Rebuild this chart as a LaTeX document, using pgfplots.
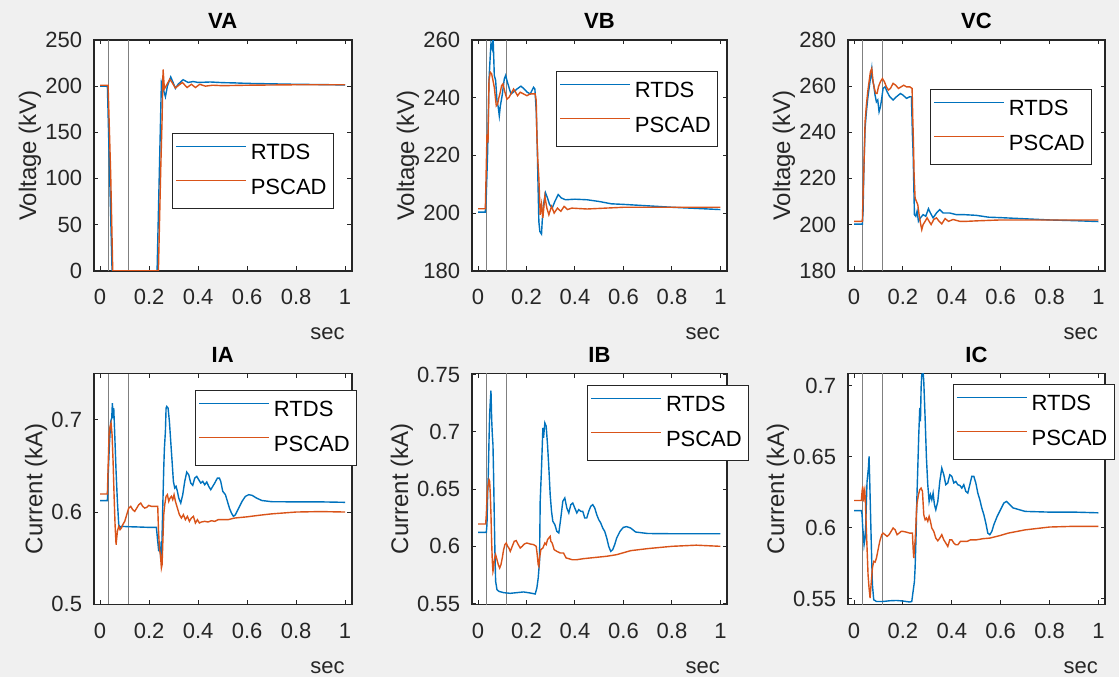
\documentclass[border=0pt]{standalone}
\usepackage{fontspec}
\setmainfont{Liberation Sans}
\usepackage{pgfplots}
\pgfplotsset{compat=1.18}
\definecolor{figbg}{RGB}{240,240,240}
\definecolor{axcol}{RGB}{38,38,38}
\definecolor{rtds}{RGB}{0,114,189}
\definecolor{pscad}{RGB}{217,83,25}
\definecolor{vline}{RGB}{128,128,128}
\pgfplotsset{
 mystyle/.style={
  scale only axis, anchor=south west,
  xmin=-0.026, xmax=1.027,
  xtick={0,0.2,0.4,0.6,0.8,1}, xticklabels={0,0.2,0.4,0.6,0.8,1},
  axis background/.style={fill=white},
  axis line style={axcol, line width=0.8pt},
  tick style={axcol, line width=0.5pt},
  major tick length=2.2pt,
  tick align=inside,
  every tick label/.append style={font=\fontsize{11}{13}\selectfont, text=axcol},
  xticklabel style={yshift=-5.8pt},
  yticklabel style={xshift=-2.3pt},
  xlabel={sec},
  xlabel style={at={(axis description cs:1,0)}, anchor=base east, yshift=-34.5pt, font=\fontsize{11}{13}\selectfont, text=axcol},
  ylabel style={font=\fontsize{12}{14}\selectfont, text=axcol},
  ylabel shift=-4.8pt,
  legend cell align=left,
  legend style={draw=axcol, line width=0.5pt, fill=white, inner xsep=1.5pt, inner ysep=3.55pt, row sep=3.9pt,
     font=\fontsize{11}{13}\selectfont, nodes={inner sep=2pt}, anchor=north west},
  legend image code/.code={\draw[##1, line width=0.7pt] (0pt,3.6pt) -- (35pt,3.6pt);},
 },
 rt/.style={rtds, line width=0.7pt},
 ps/.style={pscad, line width=0.7pt},
 gl/.style={vline, line width=0.5pt, forget plot},
}
\tikzset{ttl/.style={anchor=base, font=\bfseries\fontsize{11}{13}\selectfont, text=black, inner sep=0pt}}
\begin{document}
\begin{tikzpicture}
\path[use as bounding box, fill=figbg] (0,0) rectangle (559.5pt,338.5pt);

% ---------------- VA ----------------
\begin{axis}[mystyle, at={(46.85pt,203.15pt)}, width=129pt, height=115.35pt,
  ymin=0, ymax=250, ytick={0,50,100,150,200,250}, yticklabels={0,50,100,150,200,250},
  ylabel={Voltage (kV)}, legend style={at={(0.303,0.597)}}]
\addplot[gl] coordinates {(0.033,0) (0.033,250)};
\addplot[gl] coordinates {(0.117,0) (0.117,250)};
\addplot[rt] coordinates {(0,200) (0.0299,200) (0.049,0) (0.2327,0) (0.2503,204) (0.2667,188.5) (0.2748,200) (0.2884,210) (0.298,204) (0.3075,197.5) (0.3184,202) (0.3388,207) (0.3592,204) (0.38,205) (0.4,204) (0.45,204.5) (0.5,203.8) (0.55,203.5) (0.6,203) (0.7,202.5) (0.8,202) (0.9,201.7) (1,201.3)};
\addplot[ps] coordinates {(0,201) (0.0327,201) (0.0435,103) (0.0517,0) (0.2381,0) (0.2476,110) (0.2531,164) (0.2571,218) (0.2626,197) (0.2735,202) (0.2844,207.5) (0.2939,204) (0.3075,198) (0.3211,201) (0.3361,204) (0.3551,198.5) (0.3728,202) (0.3891,198.5) (0.4068,202) (0.43,200) (0.46,201) (0.5,200.5) (0.6,201) (0.8,201.5) (1,201.5)};
\legend{RTDS,PSCAD}
\end{axis}

% ---------------- VB ----------------
\begin{axis}[mystyle, at={(235.85pt,203.15pt)}, width=127.65pt, height=115.35pt,
  ymin=180, ymax=260, ytick={180,200,220,240,260}, yticklabels={180,200,220,240,260},
  ylabel={Voltage (kV)}, legend style={at={(0.330,0.866)}}]
\addplot[gl] coordinates {(0.033,180) (0.033,260)};
\addplot[gl] coordinates {(0.117,180) (0.117,260)};
\addplot[rt] coordinates {(0,200.3) (0.0302,200.3) (0.0343,206.4) (0.0398,221.5) (0.0453,246) (0.0508,255) (0.0535,258.7) (0.059,257) (0.0617,262) (0.0645,255) (0.0672,247.7) (0.0727,246) (0.0782,239) (0.0837,236.6) (0.0878,233.7) (0.0919,237) (0.1001,241) (0.1084,246.5) (0.1139,247.7) (0.1193,246) (0.1276,243.6) (0.1358,241.3) (0.1468,242) (0.1605,243) (0.177,244) (0.1907,243) (0.2016,242) (0.2154,241.3) (0.2291,243.6) (0.2346,243) (0.2401,235.5) (0.2442,223.8) (0.2469,212.2) (0.251,197) (0.2551,193.6) (0.262,192.7) (0.2647,197) (0.2702,203) (0.2785,207) (0.2867,205.2) (0.2949,203) (0.3059,201.7) (0.3169,204) (0.3306,206.4) (0.3443,205.2) (0.3608,204.6) (0.4,204.8) (0.45,204.6) (0.5,204) (0.55,203.2) (0.6,203) (0.7,202.5) (0.8,202) (0.9,201.6) (1,201.2)};
\addplot[ps] coordinates {(0,201.5) (0.0302,201.5) (0.0316,206.4) (0.037,227.3) (0.0412,224.4) (0.0453,246) (0.0508,248.8) (0.0562,248.3) (0.0617,246) (0.0672,243.6) (0.0754,237.2) (0.0809,237.8) (0.0864,240.1) (0.0919,241.9) (0.0974,244.2) (0.1029,244.8) (0.1111,241.9) (0.1193,239.5) (0.1276,240.1) (0.1358,241.3) (0.1468,243) (0.155,241.9) (0.1632,240.7) (0.1742,241.9) (0.1879,241.3) (0.2016,240.7) (0.2154,241.3) (0.2359,241.3) (0.2401,239) (0.2428,227.3) (0.2469,218) (0.251,212.2) (0.2565,199.4) (0.262,203) (0.2675,198.3) (0.2757,205.8) (0.284,201.7) (0.2922,199.4) (0.3032,202.3) (0.3141,200) (0.3278,201.7) (0.3416,200.6) (0.3553,202.3) (0.369,201.2) (0.3868,201.7) (0.45,201.4) (0.5,201.6) (0.6,202) (0.8,202) (1,202)};
\legend{RTDS,PSCAD}
\end{axis}

% ---------------- VC ----------------
\begin{axis}[mystyle, at={(423.85pt,203.15pt)}, width=128.65pt, height=115.35pt,
  ymin=180, ymax=280, ytick={180,200,220,240,260,280}, yticklabels={180,200,220,240,260,280},
  ylabel={Voltage (kV)}, legend style={at={(0.320,0.788)}}]
\addplot[gl] coordinates {(0.033,180) (0.033,280)};
\addplot[gl] coordinates {(0.117,180) (0.117,280)};
\addplot[rt] coordinates {(0,200.2) (0.0341,200.2) (0.0369,205.8) (0.0396,221.6) (0.0451,241.7) (0.0505,248.9) (0.056,254.7) (0.0614,259) (0.0669,263.3) (0.0724,267.6) (0.0751,263.3) (0.0805,260.4) (0.086,256.1) (0.0915,253.2) (0.0969,254) (0.1024,248.9) (0.1078,251) (0.1133,254.7) (0.1188,259) (0.127,259.7) (0.1352,257.6) (0.1461,255.4) (0.1597,254) (0.1734,255.4) (0.1898,256.8) (0.2007,256.1) (0.2143,254.7) (0.228,255.4) (0.2348,255.4) (0.2389,238.8) (0.2416,231.7) (0.2444,217.3) (0.2471,204.3) (0.2526,203.6) (0.258,205.8) (0.2635,201.4) (0.2717,202.9) (0.2826,204.3) (0.2935,203.6) (0.3044,206.9) (0.3126,205) (0.3235,202.9) (0.3372,205) (0.3509,206.5) (0.3645,205) (0.3918,205) (0.4191,204.3) (0.45,204.3) (0.5,204) (0.55,203.2) (0.6,203) (0.7,202.5) (0.8,202) (0.9,201.7) (1,201.3)};
\addplot[ps] coordinates {(0,201.4) (0.0341,201.4) (0.0369,213) (0.0396,221.6) (0.0451,244.6) (0.0505,251.8) (0.056,257.6) (0.0614,261.9) (0.0669,266.2) (0.0724,267.6) (0.0778,261.9) (0.0833,259) (0.0887,256.8) (0.0942,256.8) (0.0997,259.7) (0.1078,261.9) (0.116,263.3) (0.1242,261.9) (0.1324,259.7) (0.1406,258.3) (0.1488,259) (0.1597,261.2) (0.1706,260.4) (0.1816,259) (0.1925,259.7) (0.2034,260.4) (0.2143,259.7) (0.228,259.7) (0.2375,259) (0.2403,246) (0.243,236) (0.2457,221.6) (0.2498,211.5) (0.2553,210) (0.2608,208.6) (0.2662,204.3) (0.2717,200.7) (0.2771,197.8) (0.2826,200) (0.2908,201.4) (0.299,202.9) (0.3072,201.4) (0.3154,200) (0.3263,202.2) (0.3372,202.9) (0.3481,201.4) (0.359,200.3) (0.3727,202.6) (0.3863,201.4) (0.4055,202.2) (0.4328,201.4) (0.4601,201.4) (0.5,201.6) (0.6,202) (0.8,202) (1,202)};
\legend{RTDS,PSCAD}
\end{axis}

% ---------------- IA ----------------
\begin{axis}[mystyle, at={(46.85pt,36.35pt)}, width=129pt, height=115.35pt,
  ymin=0.5, ymax=0.75, ytick={0.5,0.6,0.7}, yticklabels={0.5,0.6,0.7},
  ylabel={Current (kA)}, legend style={at={(0.393,0.929)}}]
\addplot[gl] coordinates {(0.033,0.5) (0.033,0.75)};
\addplot[gl] coordinates {(0.117,0.5) (0.117,0.75)};
\addplot[rt] coordinates {(0,0.6123) (0.0299,0.6123) (0.0327,0.6368) (0.0381,0.6729) (0.0435,0.6982) (0.0476,0.7018) (0.0503,0.7181) (0.0531,0.7018) (0.0558,0.7126) (0.0599,0.6838) (0.0653,0.644) (0.0707,0.6116) (0.0762,0.5863) (0.0816,0.5834) (0.0871,0.5845) (0.1143,0.5841) (0.1551,0.5838) (0.1959,0.5834) (0.2299,0.5834) (0.234,0.5718) (0.2395,0.5574) (0.2435,0.5682) (0.2476,0.5502) (0.2517,0.5592) (0.2558,0.6043) (0.2599,0.6477) (0.2626,0.6693) (0.2667,0.6874) (0.2694,0.7126) (0.2721,0.7144) (0.2776,0.7126) (0.283,0.6982) (0.2884,0.6765) (0.2939,0.6549) (0.2993,0.6332) (0.3048,0.626) (0.3102,0.6278) (0.3156,0.6224) (0.3211,0.6152) (0.3293,0.6097) (0.3374,0.6188) (0.3456,0.6332) (0.3537,0.6433) (0.3619,0.6404) (0.3701,0.6314) (0.3782,0.6289) (0.3864,0.6368) (0.3946,0.6386) (0.4027,0.635) (0.4109,0.6314) (0.419,0.6332) (0.4272,0.6296) (0.4354,0.6325) (0.4435,0.6278) (0.4517,0.6242) (0.4599,0.6278) (0.468,0.6314) (0.4789,0.6368) (0.4871,0.6368) (0.4925,0.6332) (0.5007,0.6224) (0.5116,0.6188) (0.5197,0.6116) (0.5279,0.6043) (0.5361,0.5989) (0.5442,0.5953) (0.5524,0.5971) (0.566,0.6043) (0.5796,0.6116) (0.5932,0.617) (0.6068,0.6188) (0.6204,0.6181) (0.6381,0.6152) (0.66,0.6125) (0.7,0.6112) (0.8,0.611) (0.9,0.611) (1,0.6105)};
\addplot[ps] coordinates {(0,0.6195) (0.0299,0.6195) (0.0327,0.6477) (0.0367,0.6838) (0.0408,0.6928) (0.0449,0.6964) (0.049,0.6838) (0.0531,0.6549) (0.0571,0.6188) (0.0612,0.5863) (0.0653,0.5646) (0.0707,0.5791) (0.0762,0.5845) (0.0816,0.5809) (0.0871,0.5827) (0.0925,0.5863) (0.1007,0.5899) (0.1088,0.5971) (0.117,0.6043) (0.1252,0.6061) (0.1333,0.6025) (0.1415,0.6007) (0.1497,0.6043) (0.1578,0.6079) (0.166,0.6097) (0.1741,0.6061) (0.1823,0.6043) (0.1905,0.6051) (0.1986,0.6072) (0.2095,0.6061) (0.2231,0.6061) (0.2354,0.6061) (0.2381,0.5827) (0.2422,0.561) (0.2463,0.5538) (0.2503,0.5394) (0.2531,0.543) (0.2558,0.5646) (0.2599,0.5971) (0.2639,0.6079) (0.2694,0.617) (0.2748,0.6188) (0.2803,0.6116) (0.2857,0.6152) (0.2912,0.617) (0.2966,0.6134) (0.302,0.6188) (0.3075,0.6116) (0.3156,0.6043) (0.3238,0.5971) (0.332,0.5935) (0.3401,0.5971) (0.3483,0.5917) (0.3565,0.5953) (0.3646,0.5899) (0.3728,0.5935) (0.381,0.5953) (0.3891,0.5881) (0.3973,0.5917) (0.4054,0.5881) (0.4136,0.5892) (0.4272,0.5899) (0.4408,0.5892) (0.4544,0.5906) (0.468,0.5899) (0.4816,0.5917) (0.4952,0.5917) (0.5224,0.5917) (0.5497,0.5935) (0.6,0.5948) (0.65,0.5965) (0.7,0.598) (0.75,0.599) (0.8,0.6) (0.9,0.6005) (1,0.6)};
\legend{RTDS,PSCAD}
\end{axis}

% ---------------- IB ----------------
\begin{axis}[mystyle, at={(235.85pt,36.35pt)}, width=127.65pt, height=115.35pt,
  ymin=0.5493, ymax=0.751, ytick={0.55,0.6,0.65,0.7,0.75}, yticklabels={0.55,0.6,0.65,0.7,0.75},
  ylabel={Current (kA)}, legend style={at={(0.452,0.951)}}]
\addplot[gl] coordinates {(0.033,0.5) (0.033,0.76)};
\addplot[gl] coordinates {(0.117,0.5) (0.117,0.76)};
\addplot[rt] coordinates {(0,0.6122) (0.0343,0.6122) (0.037,0.619) (0.0398,0.6452) (0.0425,0.6627) (0.0453,0.6918) (0.048,0.7152) (0.0508,0.7268) (0.0535,0.7362) (0.0562,0.7122) (0.059,0.6977) (0.0617,0.6889) (0.0645,0.6598) (0.0672,0.6248) (0.07,0.5927) (0.0727,0.5694) (0.0782,0.5621) (0.0864,0.5606) (0.1056,0.5595) (0.1331,0.5589) (0.1605,0.5595) (0.1879,0.5601) (0.2154,0.5592) (0.2359,0.5583) (0.2428,0.5636) (0.2483,0.5723) (0.2538,0.5869) (0.2565,0.6394) (0.262,0.6685) (0.2675,0.7035) (0.2702,0.6948) (0.2757,0.7079) (0.2812,0.705) (0.2867,0.6889) (0.2922,0.6685) (0.2977,0.6452) (0.3032,0.6306) (0.3086,0.6219) (0.3169,0.619) (0.3251,0.6131) (0.3333,0.6117) (0.3416,0.6248) (0.3498,0.6394) (0.358,0.6423) (0.3663,0.6335) (0.3745,0.6292) (0.3827,0.6364) (0.3909,0.6379) (0.3992,0.6335) (0.4074,0.6292) (0.4156,0.6321) (0.4239,0.6306) (0.4321,0.6306) (0.4403,0.6248) (0.4486,0.6248) (0.4568,0.6306) (0.465,0.635) (0.4733,0.6364) (0.4815,0.6335) (0.4897,0.6277) (0.4979,0.6233) (0.5062,0.6204) (0.5144,0.616) (0.5226,0.6131) (0.5309,0.6073) (0.5391,0.6) (0.5473,0.5956) (0.5556,0.5971) (0.5638,0.6015) (0.572,0.6073) (0.5857,0.6131) (0.5995,0.6166) (0.6132,0.6172) (0.6296,0.616) (0.65,0.6125) (0.7,0.6112) (0.8,0.611) (1,0.611)};
\addplot[ps] coordinates {(0,0.6195) (0.0316,0.6195) (0.0343,0.6277) (0.037,0.6423) (0.0398,0.651) (0.0453,0.6583) (0.048,0.6569) (0.0508,0.6452) (0.0535,0.6277) (0.0562,0.6044) (0.059,0.5869) (0.0617,0.5781) (0.0645,0.581) (0.0672,0.5883) (0.0727,0.5927) (0.0782,0.5883) (0.0837,0.584) (0.0892,0.581) (0.0947,0.584) (0.1001,0.5898) (0.1056,0.5971) (0.1111,0.6015) (0.1166,0.6029) (0.1221,0.6) (0.1276,0.5985) (0.1331,0.5956) (0.1413,0.6) (0.1495,0.6044) (0.1578,0.605) (0.166,0.6015) (0.1742,0.5985) (0.1824,0.6) (0.1907,0.602) (0.2016,0.6029) (0.2154,0.602) (0.2291,0.6015) (0.2401,0.6) (0.2442,0.5927) (0.2483,0.584) (0.251,0.5825) (0.2538,0.5898) (0.2593,0.5971) (0.2675,0.5985) (0.2757,0.6029) (0.2812,0.6015) (0.2867,0.6058) (0.2922,0.6073) (0.2977,0.6087) (0.3004,0.6044) (0.3059,0.6029) (0.3141,0.5971) (0.3251,0.5956) (0.3388,0.5942) (0.3525,0.5942) (0.3635,0.5898) (0.3745,0.5892) (0.3882,0.5883) (0.4074,0.5883) (0.4348,0.5892) (0.4623,0.5898) (0.4897,0.5904) (0.5309,0.5913) (0.572,0.5927) (0.6296,0.5962) (0.7,0.598) (0.8,0.6) (0.9,0.601) (1,0.6)};
\legend{RTDS,PSCAD}
\end{axis}

% ---------------- IC ----------------
\begin{axis}[mystyle, at={(423.85pt,36.35pt)}, width=128.65pt, height=115.35pt,
  ymin=0.5461, ymax=0.7085, ytick={0.55,0.6,0.65,0.7}, yticklabels={0.55,0.6,0.65,0.7},
  ylabel={Current (kA)}, legend style={at={(0.408,0.955)}}]
\addplot[gl] coordinates {(0.033,0.5) (0.033,0.75)};
\addplot[gl] coordinates {(0.117,0.5) (0.117,0.75)};
\addplot[rt] coordinates {(0,0.612) (0.03,0.612) (0.0328,0.6092) (0.0355,0.5998) (0.0382,0.5951) (0.041,0.588) (0.0451,0.5927) (0.0478,0.6021) (0.0505,0.6185) (0.0532,0.6326) (0.056,0.6373) (0.0587,0.642) (0.0614,0.6502) (0.0642,0.6326) (0.0669,0.6138) (0.0696,0.5951) (0.0724,0.5763) (0.0751,0.5599) (0.0805,0.5493) (0.0915,0.5481) (0.1188,0.5481) (0.1461,0.5486) (0.1734,0.5488) (0.2007,0.5484) (0.228,0.5477) (0.2362,0.5481) (0.2416,0.5552) (0.2471,0.5622) (0.2498,0.5716) (0.2539,0.5951) (0.2567,0.6185) (0.2608,0.642) (0.2648,0.6655) (0.2689,0.6843) (0.2717,0.6749) (0.2744,0.6984) (0.2771,0.7077) (0.2826,0.7095) (0.2853,0.703) (0.2908,0.6772) (0.2962,0.6491) (0.3017,0.6303) (0.3072,0.6185) (0.3126,0.6232) (0.3181,0.6197) (0.3235,0.6244) (0.329,0.6162) (0.3345,0.6127) (0.3427,0.6185) (0.3509,0.6326) (0.359,0.642) (0.3672,0.6373) (0.3754,0.6303) (0.3836,0.6315) (0.3918,0.6373) (0.4,0.6362) (0.4082,0.6315) (0.4164,0.6326) (0.4246,0.6303) (0.4328,0.6298) (0.441,0.6279) (0.4491,0.6303) (0.4573,0.6256) (0.4655,0.6244) (0.4737,0.6303) (0.4819,0.6362) (0.4901,0.6362) (0.4983,0.6315) (0.5065,0.6244) (0.5147,0.6197) (0.5229,0.6138) (0.5311,0.6092) (0.5392,0.6033) (0.5474,0.5962) (0.5556,0.5951) (0.5638,0.5974) (0.572,0.6021) (0.5857,0.608) (0.5993,0.6127) (0.613,0.6174) (0.6239,0.6185) (0.6307,0.6174) (0.65,0.614) (0.7,0.6115) (0.8,0.611) (0.9,0.611) (1,0.6105)};
\addplot[ps] coordinates {(0,0.6192) (0.03,0.6192) (0.0328,0.6256) (0.0355,0.6291) (0.0382,0.6185) (0.041,0.6244) (0.0437,0.6268) (0.0464,0.6185) (0.0491,0.6045) (0.0532,0.5857) (0.0573,0.5669) (0.0614,0.5575) (0.0655,0.5505) (0.0696,0.5599) (0.0751,0.5716) (0.0805,0.5763) (0.086,0.5758) (0.0915,0.5786) (0.0969,0.5833) (0.1051,0.5904) (0.1133,0.5951) (0.1188,0.5962) (0.127,0.5951) (0.1352,0.5939) (0.1433,0.5951) (0.1515,0.5974) (0.1597,0.5998) (0.1679,0.5986) (0.1761,0.5951) (0.1843,0.5962) (0.1925,0.5974) (0.2007,0.5974) (0.2143,0.5969) (0.228,0.5962) (0.2389,0.5962) (0.2416,0.5857) (0.2444,0.5786) (0.2471,0.5857) (0.2498,0.5904) (0.2526,0.5998) (0.2553,0.6115) (0.258,0.6174) (0.2635,0.6232) (0.2689,0.6268) (0.2744,0.6279) (0.2799,0.6256) (0.2853,0.6092) (0.2908,0.6056) (0.2962,0.6068) (0.3017,0.6045) (0.3072,0.608) (0.3126,0.6045) (0.3181,0.5998) (0.3263,0.5974) (0.3345,0.5927) (0.3427,0.5908) (0.3509,0.5927) (0.359,0.5951) (0.3672,0.5915) (0.3754,0.5892) (0.3836,0.5868) (0.3918,0.5915) (0.4,0.5915) (0.4082,0.5892) (0.4164,0.588) (0.4246,0.588) (0.4355,0.5904) (0.4491,0.5904) (0.4628,0.5904) (0.4765,0.5915) (0.501,0.5915) (0.5283,0.5923) (0.5556,0.5927) (0.5993,0.5946) (0.6307,0.5962) (0.7,0.5985) (0.8,0.6005) (0.9,0.601) (1,0.601)};
\legend{RTDS,PSCAD}
\end{axis}

% titles
\node[ttl] at (111.35pt,324.3pt) {VA};
\node[ttl] at (299.7pt,324.3pt) {VB};
\node[ttl] at (488.2pt,324.3pt) {VC};
\node[ttl] at (111.35pt,157.1pt) {IA};
\node[ttl] at (299.7pt,157.1pt) {IB};
\node[ttl] at (488.2pt,157.1pt) {IC};
\end{tikzpicture}
\end{document}
